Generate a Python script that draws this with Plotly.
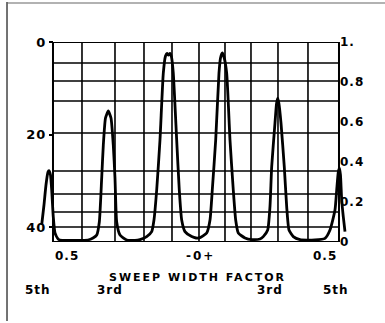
import plotly.graph_objects as go

# Sweep-width factor (x) and normalized response (right axis, 0..1)
sweep_x = [-0.5395, -0.5315, -0.5245, -0.5175, -0.514, -0.5087, -0.5045, -0.499, -0.493, -0.4815,
           -0.4685, -0.423, -0.3776, -0.36, -0.347, -0.338, -0.3297, -0.324, -0.3164, -0.3066,
           -0.2972, -0.2892, -0.2832, -0.2773, -0.2657, -0.2423, -0.2133, -0.1958, -0.1724, -0.1549,
           -0.1469, -0.1374, -0.1259, -0.1143, -0.1066, -0.1014, -0.0969, -0.0909, -0.0857, -0.0794,
           -0.0675, -0.0584, -0.05, -0.0385, -0.015, 0.0, 0.014, 0.0374, 0.049, 0.057,
           0.0689, 0.0804, 0.0857, 0.092, 0.0979, 0.1073, 0.1189, 0.1304, 0.1388, 0.1479,
           0.1713, 0.1958, 0.2238, 0.2353, 0.2507, 0.2587, 0.2647, 0.2762, 0.2815, 0.2857,
           0.2902, 0.2972, 0.3087, 0.3171, 0.3252, 0.3402, 0.3636, 0.4161, 0.451, 0.4685,
           0.486, 0.492, 0.4976, 0.5017, 0.5052, 0.5094, 0.515, 0.521]
response = [0.085, 0.185, 0.285, 0.35, 0.357, 0.335, 0.26, 0.127, 0.045, 0.014,
            0.008, 0.008, 0.01, 0.02, 0.035, 0.10, 0.32, 0.485, 0.62, 0.655,
            0.62, 0.485, 0.32, 0.10, 0.035, 0.01, 0.008, 0.012, 0.027, 0.052,
            0.11, 0.26, 0.51, 0.844, 0.93, 0.943, 0.935, 0.943, 0.925, 0.844,
            0.51, 0.26, 0.11, 0.052, 0.027, 0.02, 0.022, 0.045, 0.11, 0.26,
            0.51, 0.844, 0.92, 0.945, 0.925, 0.844, 0.51, 0.26, 0.11, 0.045,
            0.02, 0.012, 0.015, 0.027, 0.06, 0.177, 0.377, 0.595, 0.69, 0.719,
            0.69, 0.595, 0.377, 0.177, 0.06, 0.027, 0.012, 0.01, 0.018, 0.06,
            0.16, 0.26, 0.35, 0.369, 0.335, 0.21, 0.127, 0.052]

db_ticks = [0, 20, 40]
lin_ticks = [0, 0.2, 0.4, 0.6, 0.8, 1.0]
lin_labels = ["0", "0.2", "0.4", "0.6", "0.8", "1."]
x_labels = ["0.5", "-0+", "0.5"]
harmonic_labels = ["5th", "3rd", "3rd", "5th"]
axis_title = "SWEEP WIDTH FACTOR"

# grid positions (x in sweep units, y in right-axis units)
grid_x = [-0.5, -0.3986, -0.2832, -0.1818, -0.0839, 0.0105, 0.1014, 0.1923, 0.2867, 0.3916, 0.5]
grid_y = [0, 0.075, 0.15, 0.24, 0.355, 0.545, 0.705, 0.805, 0.895, 1.0]

FONT = "DejaVu Sans"


def spaced(t, px):
    return '<span style="letter-spacing:%spx">%s</span>' % (px, t)


fig = go.Figure()
fig.add_trace(go.Scatter(x=sweep_x, y=response, mode="lines",
                         line=dict(color="black", width=2.8, shape="spline", smoothing=0.5),
                         hoverinfo="skip", showlegend=False))
# empty traces so the two labelled scales are drawn
fig.add_trace(go.Scatter(x=[None], y=[None], yaxis="y2", mode="lines",
                         hoverinfo="skip", showlegend=False))
fig.add_trace(go.Scatter(x=[None], y=[None], yaxis="y3", mode="lines",
                         hoverinfo="skip", showlegend=False))

shapes = []
for gx in grid_x[1:-1]:
    shapes.append(dict(type="line", xref="x", yref="y", x0=gx, x1=gx, y0=0, y1=1,
                       line=dict(color="black", width=1.6), layer="below"))
for gy in grid_y[1:-1]:
    shapes.append(dict(type="line", xref="x", yref="y", x0=-0.5, x1=0.5, y0=gy, y1=gy,
                       line=dict(color="black", width=1.6), layer="below"))
shapes.append(dict(type="rect", xref="x", yref="y", x0=-0.5, x1=0.5, y0=0, y1=1,
                   line=dict(color="black", width=2), layer="below"))
# page frame lines (scan border)
shapes.append(dict(type="line", xref="paper", yref="paper", x0=-0.0987, x1=-0.0987, y0=1.2, y1=-0.395,
                   line=dict(color="#444", width=1.5)))
shapes.append(dict(type="line", xref="paper", yref="paper", x0=-0.0987, x1=1.11, y0=1.195, y1=1.195,
                   line=dict(color="#666", width=1.2)))

tf = dict(family=FONT, size=12, color="black", weight="bold")
annotations = [
    dict(x=-0.5, y=-0.07, xref="x", yref="paper", text=spaced(x_labels[0], 1), showarrow=False,
         xanchor="left", yanchor="middle", font=tf),
    dict(x=0.016, y=-0.07, xref="x", yref="paper", text=spaced(x_labels[1], 2), showarrow=False,
         xanchor="center", yanchor="middle", font=tf),
    dict(x=0.5, y=-0.07, xref="x", yref="paper", text=spaced(x_labels[2], 1), showarrow=False,
         xanchor="right", yanchor="middle", font=tf),
    dict(x=0.005, y=-0.175, xref="x", yref="paper", text=spaced(axis_title, 2), showarrow=False,
         xanchor="center", yanchor="middle",
         font=dict(family=FONT, size=11, color="black", weight="bold")),
]
harm_x = [-0.551, -0.302, 0.26, 0.491]
for hx, ht in zip(harm_x, harmonic_labels):
    annotations.append(dict(x=hx, y=-0.24, xref="x", yref="paper", text=spaced(ht, 1),
                            showarrow=False, xanchor="center", yanchor="middle",
                            font=dict(family=FONT, size=12, color="black", weight="bold")))

fig.update_layout(
    width=385, height=323,
    margin=dict(l=38, r=33, t=42, b=81),
    paper_bgcolor="white", plot_bgcolor="white",
    xaxis=dict(range=[-0.5524, 0.5455], showgrid=False, zeroline=False, showline=False,
               showticklabels=False, ticks="", fixedrange=True),
    yaxis=dict(range=[0, 1], showgrid=False, zeroline=False, showline=False,
               showticklabels=False, ticks="", fixedrange=True),
    yaxis2=dict(range=[43.2, 0], overlaying="y", anchor="free", position=0.0478, side="left",
                tickvals=db_ticks, ticktext=[spaced(str(v), 1) for v in db_ticks],
                ticks="outside", ticklen=4, tickwidth=1.5, tickcolor="black",
                showgrid=False, zeroline=False, showline=False,
                tickfont=dict(family=FONT, size=13, color="black", weight="bold")),
    yaxis3=dict(range=[0, 1], overlaying="y", anchor="free", position=0.9586, side="right",
                tickvals=lin_ticks, ticktext=[spaced(t, 1) for t in lin_labels], ticks="",
                showgrid=False, zeroline=False, showline=False,
                tickfont=dict(family=FONT, size=12, color="black", weight="bold")),
    shapes=shapes, annotations=annotations,
)

fig.write_html("out.html", post_script="document.body.style.margin='0';",
               config={"displayModeBar": False})
